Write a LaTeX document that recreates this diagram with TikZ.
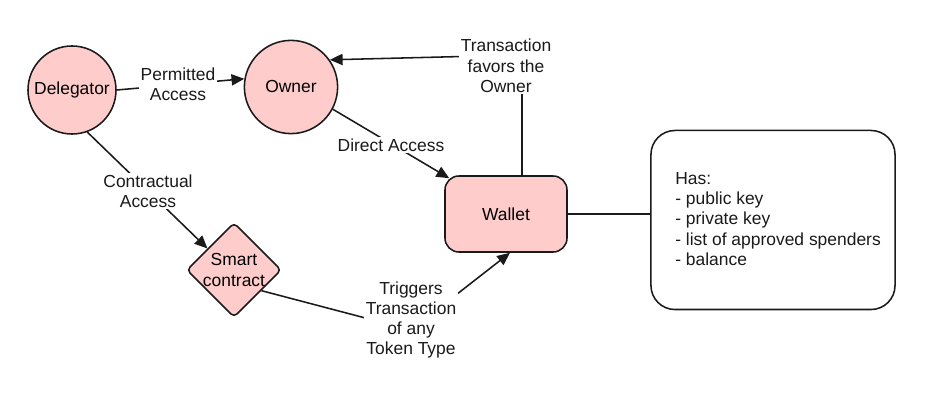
\documentclass[tikz,border=0pt]{standalone}
\usepackage{fontspec}
\setmainfont{Liberation Sans}
\usetikzlibrary{shapes.geometric,arrows.meta}
\definecolor{pinkfill}{HTML}{FFCCCC}
\definecolor{ink}{HTML}{1A1A1A}
\tikzset{
  actor/.style={circle,draw=ink,line width=1.1pt,fill=pinkfill,inner sep=0pt},
  edgelbl/.style={fill=white,inner sep=1pt,align=center,text=ink},
  arr/.style={-{Triangle[length=0.32cm,width=0.28cm]},line width=1.1pt,draw=ink},
  plain/.style={line width=1.1pt,draw=ink}
}
\begin{document}
\begin{tikzpicture}[x=0.025cm,y=-0.025cm,font=\fontsize{12.4}{14.4}\selectfont]
    \useasboundingbox (0,0) rectangle (941,412);
	\node[actor,minimum size=2.2cm] (Delegator) at (72,90) {Delegator};
	\node[actor,minimum size=2.33cm] (Owner) at (291,87) {Owner};
	\node[plain,fill=pinkfill,rounded corners=0.35cm,minimum width=3.05cm,minimum height=1.9cm] (Wallet) at (506,214) {Wallet};
	\node[plain,diamond,fill=pinkfill,rounded corners=3pt,minimum width=2.35cm,minimum height=2.22cm,inner sep=0pt,align=center] (Smart) at (234,270) {Smart\\contract};
	\node[plain,rounded corners=0.6cm,minimum width=6.1cm,minimum height=4.475cm] (Has) at (773,220) {};
	\node[anchor=west,align=left,inner sep=0pt,text=ink] (HasList) at (675,219) {Has:\\- public key\\- private key\\- list of approved spenders\\- balance};

	\coordinate (Bend) at (411,330);
	\coordinate (Corner) at (522,55);

	\draw[arr] (Delegator.east) -- (Owner.170);
	\draw[arr] (Owner.-28) -- ([xshift=0.125cm,yshift=-0.075cm]Wallet.north west);
	\draw[arr] (Delegator.-70) -- (Smart.141);
	\draw[arr] (Smart.-37) -- (Bend) -- ([xshift=0.1cm]Wallet.south);
	\draw[arr] ([xshift=0.4cm]Wallet.north) -- (Corner) -- (Owner.35);
	\draw[plain] (Wallet.east) -- (Wallet.east -| Has.west);

	\node[edgelbl] (PermAcc) at (178,84) {Permitted\\Access};
	\node[edgelbl] (DirAcc) at (391,145) {Direct Access};
	\node[edgelbl] (ContrAcc) at (148,191) {Contractual\\Access};
	\node[edgelbl] (Trig) at (411,320) {Triggers\\Transaction\\of any\\Token Type};
	\node[edgelbl] (Favors) at (506,66) {Transaction\\favors the\\Owner};
\end{tikzpicture}
\end{document}
